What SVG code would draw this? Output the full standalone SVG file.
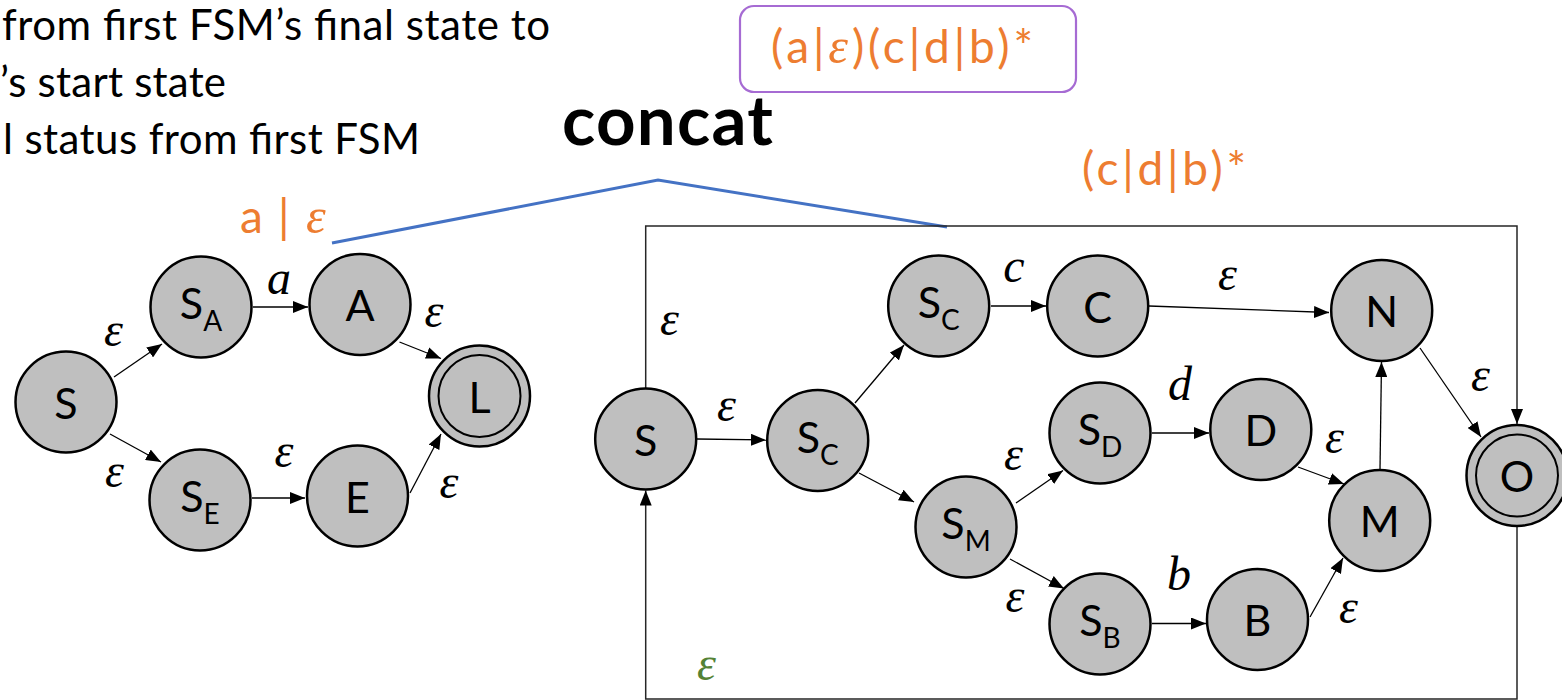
<svg xmlns="http://www.w3.org/2000/svg" width="1562" height="700" viewBox="0 0 1562 700">
<style>
.node{fill:#BFBFBF;stroke:#000;stroke-width:2.5}
.inner{fill:none;stroke:#000;stroke-width:2}
.lbl{font-family:Lato,"Open Sans",sans-serif;font-size:43px;fill:#000;text-anchor:middle}
.sub{font-size:28px}
.edge{fill:none;stroke:#000;stroke-width:1.3;marker-end:url(#ah)}
.frame{fill:none;stroke:#262626;stroke-width:1.5}
.it{font-family:"Liberation Serif","DejaVu Serif",serif;font-style:italic;font-size:48px;fill:#000;text-anchor:middle}
.txt{font-family:Lato,"Open Sans",sans-serif;font-size:42px;fill:#000}
.or{font-family:Lato,"Open Sans",sans-serif;font-size:46px;fill:#ED7D31}
.oreps{font-family:"Liberation Serif","DejaVu Serif",serif;font-style:italic;font-size:50px}
</style>
<defs>
<marker id="ah" markerWidth="15" markerHeight="12" refX="15" refY="6" orient="auto" markerUnits="userSpaceOnUse"><path d="M0,0 L15,6 L0,12 z" fill="#000"/></marker>
</defs>

<g id="notes">
<text class="txt" x="2" y="40" textLength="548" lengthAdjust="spacing">from first FSM’s final state to</text>
<text class="txt" x="0" y="97" textLength="226" lengthAdjust="spacing">’s start state</text>
<text class="txt" x="3" y="154" textLength="417" lengthAdjust="spacing">l status from first FSM</text>
</g>

<g id="regex-box">
<rect x="740" y="6" width="336" height="86" rx="14" ry="14" fill="#fff" stroke="#A66BD3" stroke-width="2.2"/>
<text class="or" x="771" y="63" textLength="262" lengthAdjust="spacing">(a|<tspan class="oreps">ε</tspan>)(c|d|b)*</text>
</g>

<g id="concat-title">
<text x="562" y="145" font-family="Lato,'Open Sans',sans-serif" font-weight="bold" font-size="69" textLength="211" lengthAdjust="spacing">concat</text>
<polyline points="332,243 658,180 947,227" fill="none" stroke="#4472C4" stroke-width="3"/>
</g>

<g id="sublabels">
<text class="or" y="233"><tspan x="240">a</tspan> <tspan x="278">|</tspan> <tspan x="306" class="oreps">ε</tspan></text>
<text class="or" x="1082" y="185" textLength="164" lengthAdjust="spacing">(c|d|b)*</text>
</g>

<g id="connectors">
<line class="edge" x1="114" y1="377" x2="162" y2="344"/>
<line class="edge" x1="110" y1="434" x2="161" y2="462"/>
<line class="edge" x1="253" y1="307" x2="308" y2="307"/>
<line class="edge" x1="399.5" y1="342" x2="441" y2="358.5"/>
<line class="edge" x1="252" y1="498" x2="305" y2="498"/>
<line class="edge" x1="410" y1="493" x2="441" y2="434"/>
<line class="edge" x1="697" y1="439" x2="766" y2="440"/>
<line class="edge" x1="855" y1="403" x2="904" y2="345"/>
<line class="edge" x1="859" y1="473" x2="914" y2="502"/>
<line class="edge" x1="1016" y1="503" x2="1063" y2="470.5"/>
<line class="edge" x1="1010" y1="559" x2="1064" y2="588.5"/>
<line class="edge" x1="991" y1="306" x2="1046" y2="306"/>
<line class="edge" x1="1149" y1="306" x2="1329" y2="312.5"/>
<line class="edge" x1="1152" y1="433" x2="1209" y2="433"/>
<line class="edge" x1="1152" y1="623.5" x2="1206" y2="623.5"/>
<line class="edge" x1="1298" y1="467" x2="1344" y2="484"/>
<line class="edge" x1="1310" y1="617" x2="1343" y2="558"/>
<line class="edge" x1="1380" y1="469" x2="1381.5" y2="362"/>
<line class="edge" x1="1420" y1="348" x2="1481" y2="437"/>
<path class="frame" d="M645.7,388 V226 H1517 V424" marker-end="url(#ah)"/>
<path class="frame" d="M1517,527 V699 H645.7 V490.5" marker-end="url(#ah)"/>
</g>

<g id="edge-labels">
<text class="it" x="113.5" y="346">ε</text>
<text class="it" x="114.5" y="487">ε</text>
<text class="it" x="279" y="294">a</text>
<text class="it" x="434" y="327">ε</text>
<text class="it" x="284" y="467">ε</text>
<text class="it" x="449" y="498">ε</text>
<text class="it" x="669.5" y="335">ε</text>
<text class="it" x="726.5" y="421">ε</text>
<text class="it" x="1014" y="282">c</text>
<text class="it" x="1013.5" y="470">ε</text>
<text class="it" x="1015" y="612">ε</text>
<text class="it" x="1180" y="400">d</text>
<text class="it" x="1179" y="590">b</text>
<text class="it" x="1227.5" y="290">ε</text>
<text class="it" x="1334.5" y="453">ε</text>
<text class="it" x="1348.5" y="623">ε</text>
<text class="it" x="1480.5" y="391">ε</text>
<text class="it" x="706.5" y="680" style="fill:#548235">ε</text>
</g>

<g id="L-S"><circle class="node" cx="66" cy="402" r="50.5"/><text class="lbl" x="66" y="418.5">S</text></g>
<g id="L-SA"><circle class="node" cx="201" cy="307" r="50.5"/><text class="lbl" x="201" y="319">S<tspan class="sub" dy="12">A</tspan></text></g>
<g id="L-A"><circle class="node" cx="360" cy="304.5" r="50.5"/><text class="lbl" x="360" y="321">A</text></g>
<g id="L-L"><circle class="node" cx="479.5" cy="396" r="50.5"/><circle class="inner" cx="479.5" cy="396" r="41"/><text class="lbl" x="479.5" y="412.5">L</text></g>
<g id="L-SE"><circle class="node" cx="200" cy="500" r="50.5"/><text class="lbl" x="200" y="512">S<tspan class="sub" dy="12">E</tspan></text></g>
<g id="L-E"><circle class="node" cx="357.5" cy="496" r="50.5"/><text class="lbl" x="357.5" y="512.5">E</text></g>

<g id="R-S"><circle class="node" cx="645.7" cy="439" r="50.5"/><text class="lbl" x="645.7" y="455.5">S</text></g>
<g id="R-SC1"><circle class="node" cx="817.7" cy="440.5" r="50.5"/><text class="lbl" x="817.7" y="452.5">S<tspan class="sub" dy="12">C</tspan></text></g>
<g id="R-SC2"><circle class="node" cx="938.7" cy="306" r="50.5"/><text class="lbl" x="938.7" y="318">S<tspan class="sub" dy="12">C</tspan></text></g>
<g id="R-SM"><circle class="node" cx="966" cy="527" r="50.5"/><text class="lbl" x="966" y="539">S<tspan class="sub" dy="12">M</tspan></text></g>
<g id="R-C"><circle class="node" cx="1097.7" cy="306" r="50.5"/><text class="lbl" x="1097.7" y="322.5">C</text></g>
<g id="R-N"><circle class="node" cx="1381.7" cy="310.5" r="50.5"/><text class="lbl" x="1381.7" y="327">N</text></g>
<g id="R-SD"><circle class="node" cx="1100" cy="433" r="50.5"/><text class="lbl" x="1100" y="445">S<tspan class="sub" dy="12">D</tspan></text></g>
<g id="R-D"><circle class="node" cx="1260.8" cy="429.5" r="50.5"/><text class="lbl" x="1260.8" y="446">D</text></g>
<g id="R-M"><circle class="node" cx="1379.7" cy="520.5" r="50.5"/><text class="lbl" x="1379.7" y="537">M</text></g>
<g id="R-SB"><circle class="node" cx="1100" cy="624" r="50.5"/><text class="lbl" x="1100" y="636">S<tspan class="sub" dy="12">B</tspan></text></g>
<g id="R-B"><circle class="node" cx="1257.5" cy="619.5" r="50.5"/><text class="lbl" x="1257.5" y="636">B</text></g>
<g id="R-O"><circle class="node" cx="1517" cy="475.5" r="50.5"/><circle class="inner" cx="1517" cy="475.5" r="41"/><text class="lbl" x="1517" y="492">O</text></g>
</svg>
